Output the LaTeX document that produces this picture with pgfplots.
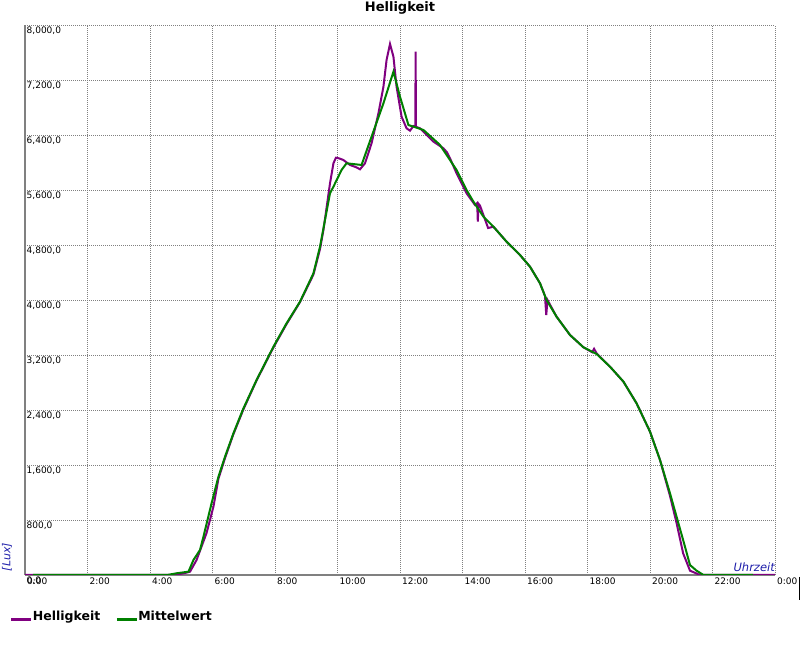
\documentclass[border=0pt]{standalone}
\usepackage{pgfplots}
\pgfplotsset{compat=1.18}
\usepackage{fontspec}
\setmainfont{DejaVu Sans}
\definecolor{hell}{RGB}{128,0,128}
\definecolor{mittel}{RGB}{0,128,0}
\definecolor{axblue}{RGB}{30,30,170}
\definecolor{axgray}{RGB}{128,128,128}

\begin{document}
\begin{tikzpicture}[x=1pt,y=1pt]
\useasboundingbox (0,0) rectangle (800,650);
\begin{axis}[
  at={(25pt,75pt)}, anchor=south west,
  scale only axis, width=750pt, height=550pt,
  xmin=0, xmax=24, ymin=0, ymax=8000,
  xtick={0,2,...,24},
  xticklabels={0:00,2:00,4:00,6:00,8:00,10:00,12:00,14:00,16:00,18:00,20:00,22:00,0:00},
  ytick={0,800,...,8000},
  yticklabels={{0,0},{800,0},{1,600,0},{2,400,0},{3,200,0},{4,000,0},{4,800,0},{5,600,0},{6,400,0},{7,200,0},{8,000,0}},
  axis lines*=left,
  axis line style={-, axgray, line width=2pt},
  grid=major,
  grid style={axgray, line width=0.8pt, dash pattern=on 1pt off 1pt},
  major tick length=0pt,
  xticklabel style={anchor=north west, inner sep=0pt, xshift=2pt, yshift=-3pt, font=\fontsize{9}{10}\selectfont},
  yticklabel style={anchor=north west, inner sep=0pt, xshift=1.5pt, yshift=-2pt, font=\fontsize{9}{10}\selectfont},
  legend style={at={(-0.0205,-0.076)}, anchor=west, draw=none, fill=none, inner sep=0pt,
    nodes={inner xsep=0pt, inner ysep=2pt},
    font=\bfseries\fontsize{12.5}{14}\selectfont,
    /tikz/every even column/.append style={column sep=15pt}},
  legend columns=2,
  legend cell align=left,
  legend image code/.code={\draw[#1, line width=3pt] (0pt,-3pt) -- (20pt,-3pt);},
]
\addplot[hell, line width=2pt] coordinates {
(0,0)(4.0,0)(4.8,0)(5.12,29)(5.28,48)(5.49,218)(5.81,611)(6.03,994)(6.19,1400)(6.4,1700)
(6.67,2050)(6.99,2410)(7.41,2830)(7.95,3310)(8.37,3650)(8.8,3970)(9.23,4370)(9.44,4740)
(9.55,5018)(9.76,5697)(9.87,5988)(9.95,6070)(10.05,6060)(10.19,6036)(10.4,5964)(10.6,5930)
(10.72,5901)(10.88,5988)(11.09,6279)(11.31,6716)(11.47,7103)(11.57,7491)(11.68,7724)
(11.79,7539)(11.89,7103)(12.05,6666)(12.21,6497)(12.32,6463)(12.43,6531)(12.49,6520)
(12.50,7612)(12.51,6520)(12.64,6497)(12.8,6425)(13.07,6303)(13.39,6206)(13.5,6150)
(13.6,6061)(13.81,5843)(14.13,5552)(14.4,5382)(14.47,5410)(14.49,5139)(14.51,5400)
(14.56,5372)(14.82,5047)(14.99,5066)(15.41,4848)(15.84,4654)(16.16,4484)(16.48,4243)
(16.64,4058)(16.68,3782)(16.72,4000)(17.01,3757)(17.44,3491)(17.87,3312)(18.15,3240)
(18.21,3290)(18.29,3225)(18.72,3030)(19.15,2812)(19.57,2497)(20.0,2085)(20.32,1673)
(20.64,1150)(20.85,756)(21.06,316)(21.28,63)(21.6,0)(24,0)
};
\addlegendentry{Helligkeit}
\addplot[mittel, line width=2pt] coordinates {
(0.26,0)(4.55,0)(4.85,25)(5.23,48)(5.39,218)(5.6,364)(5.71,557)(5.97,1043)(6.19,1430)(6.4,1721)
(6.67,2061)(6.99,2424)(7.41,2836)(7.95,3321)(8.37,3661)(8.8,3975)(9.23,4388)(9.44,4775)
(9.6,5164)(9.76,5552)(9.87,5648)(10.13,5891)(10.29,5988)(10.77,5964)(11.09,6376)
(11.47,6861)(11.79,7321)(12.0,6957)(12.27,6545)(12.75,6473)(13.28,6255)(13.81,5891)
(14.13,5600)(14.35,5430)(14.67,5212)(14.99,5066)(15.41,4848)(15.84,4654)(16.16,4484)
(16.48,4243)(16.69,4000)(17.01,3757)(17.44,3491)(17.87,3312)(18.29,3215)(18.72,3030)
(19.15,2812)(19.57,2497)(20.0,2085)(20.32,1673)(20.64,1188)(20.85,848)(21.06,509)
(21.28,145)(21.49,63)(21.71,0)(23.3,0)
};
\addlegendentry{Mittelwert}
\end{axis}
\node[font=\bfseries\fontsize{13}{15}\selectfont] at (400,642) {Helligkeit};
\node[rotate=90, font=\itshape\fontsize{11}{13}\selectfont, text=axblue, anchor=south, inner sep=0pt] at (12,93) {[Lux]};
\node[font=\itshape\fontsize{11.5}{13}\selectfont, text=axblue, anchor=base east, inner sep=0pt] at (775,78) {Uhrzeit};
\draw[black, line width=1pt] (799,73) -- (799,50);
\end{tikzpicture}
\end{document}
